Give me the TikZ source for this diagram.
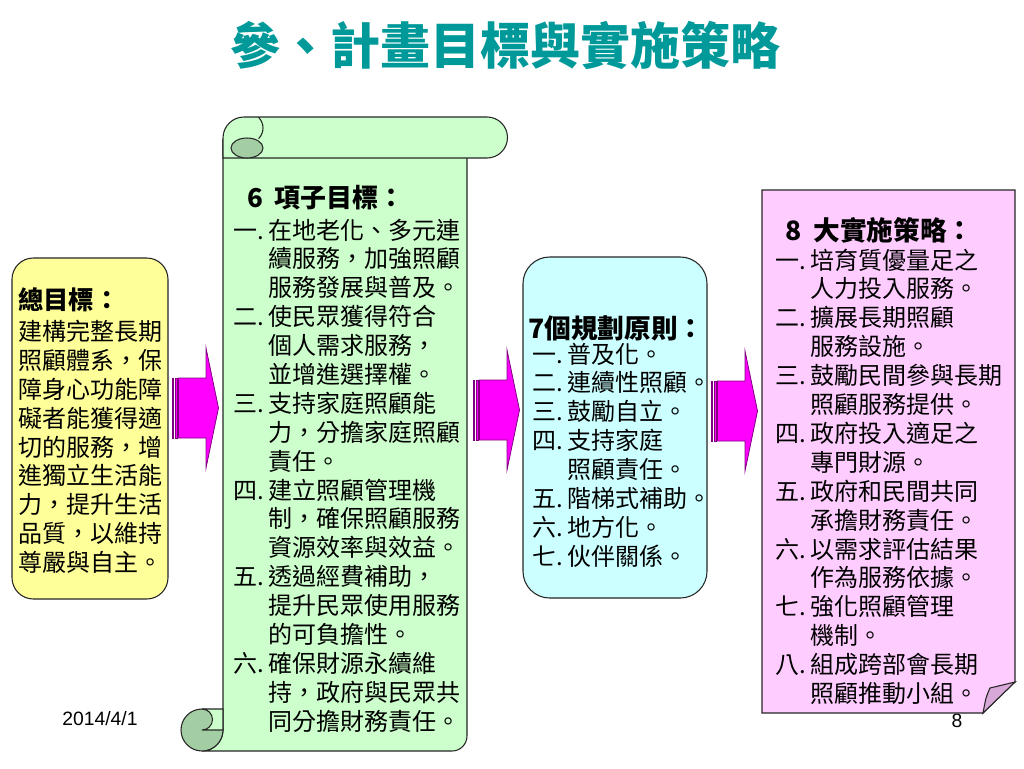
\documentclass[tikz,border=0pt]{standalone}
\usepackage{fontspec}
\setmainfont{Noto Sans CJK TC}
\newfontfamily\arialfont{Liberation Sans}
\usepackage{tikz}

\definecolor{titleteal}{HTML}{009999}
\definecolor{goalyellow}{HTML}{FFFF99}
\definecolor{scrollgreen}{HTML}{CCFFCC}
\definecolor{curlgreen}{HTML}{A3CDA3}
\definecolor{ruleblue}{HTML}{CCFFFF}
\definecolor{planpink}{HTML}{FFCCFF}
\definecolor{flappink}{HTML}{D8A8D8}
\definecolor{arrowmagenta}{HTML}{FF00FF}
\definecolor{arrowedge}{HTML}{800080}

\begin{document}
\begin{tikzpicture}[x=0.75pt, y=-0.75pt,
  outline/.style={draw=black!85, line width=0.8pt},
  arrowline/.style={draw=arrowedge, fill=arrowmagenta, line width=0.6pt},
  headtext/.style={inner sep=0pt, anchor=base west, font=\bfseries\fontsize{19.5}{22}\selectfont},
  listtext/.style={inner sep=0pt, anchor=base west, font=\fontsize{18}{21.6}\selectfont},
  stripearrow/.pic={
    \draw[arrowline] (0,-30) rectangle (1.5,30);
    \draw[arrowline] (3,-30) rectangle (5,30);
    \draw[arrowline] (6.5,-30) -- (34,-30) -- (34,-60) -- (46.5,0) -- (34,60) -- (34,30) -- (6.5,30) -- cycle;
  }]
  \useasboundingbox (0,0) rectangle (1024,768);

  \node (title) [anchor=base, inner sep=0pt, text=titleteal, font=\bfseries\fontsize{37.5}{40}\selectfont] at (505.5,64) {參、計畫目標與實施策略};
  \node (date) [anchor=base west, inner sep=0pt, font=\arialfont\fontsize{14.5}{16}\selectfont] at (62,725) {2014/4/1};
  \node (pagenum) [anchor=base, inner sep=0pt, font=\arialfont\fontsize{14.5}{16}\selectfont] at (957,727) {8};

  % boxes
  \node (goal) [outline, fill=goalyellow, rounded corners=16pt, minimum width=117pt, minimum height=255.75pt, inner sep=0pt] at (90,428.5) {};
  \node (rules) [outline, fill=ruleblue, rounded corners=20pt, minimum width=138pt, minimum height=255.75pt, inner sep=0pt] at (615,427.5) {};

  % scroll
  \draw[outline, fill=scrollgreen] (223,140) -- (223,730) arc[start angle=0, end angle=90, radius=21] -- (452,751) arc[start angle=90, end angle=0, radius=15] -- (467,150) -- cycle;
  \draw[outline, fill=scrollgreen] (223,158) -- (223,138) arc[start angle=180, end angle=270, radius=21] -- (487,117) arc[start angle=-90, end angle=90, radius=20.5] -- cycle;
  \draw[outline] (258.6,117.4) arc[start angle=-45, end angle=45, radius=15];
  \draw[outline, fill=curlgreen] (247,148) ellipse[x radius=16, y radius=10];
  \draw[outline, fill=curlgreen] (202,730) circle[radius=21];
  \draw[outline, fill=scrollgreen] (202,709) -- (223,709) -- (223,730) -- (202,730) arc[start angle=90, end angle=-90, radius=10.5] -- cycle;

  % folded note
  \draw[outline, fill=planpink] (762,190) -- (1015,190) -- (1015,682) -- (983,713) -- (762,713) -- cycle;
  \draw[outline, fill=flappink] (1015,682) -- (990,688) .. controls (986,697) .. (983,713) -- cycle;

  % arrows
  \pic at (172,408) {stripearrow};
  \pic at (473,410) {stripearrow};
  \pic at (711,411) {stripearrow};

  % texts
  \node (goalhead) [headtext, font=\bfseries\fontsize{19}{22}\selectfont] at (18,309.5) {總目標：};
  \node (goallist) [listtext] at (18,340.5) {\begin{tabular}[t]{@{}l@{}}
    建構完整長期\\ 照顧體系，保\\ 障身心功能障\\ 礙者能獲得適\\ 切的服務，增\\
    進獨立生活能\\ 力，提升生活\\ 品質，以維持\\ 尊嚴與自主。
  \end{tabular}};

  \node (aimhead) [headtext] at (247,207.5) {6\hspace{0.45em}項子目標：};
  \node (aimlist) [listtext] at (233,239) {\begin{tabular}[t]{@{}p{26.25pt}@{}l@{}}
    一.&在地老化、多元連\\ &續服務，加強照顧\\ &服務發展與普及。\\
    二.&使民眾獲得符合\\ &個人需求服務，\\ &並增進選擇權。\\
    三.&支持家庭照顧能\\ &力，分擔家庭照顧\\ &責任。\\
    四.&建立照顧管理機\\ &制，確保照顧服務\\ &資源效率與效益。\\
    五.&透過經費補助，\\ &提升民眾使用服務\\ &的可負擔性。\\
    六.&確保財源永續維\\ &持，政府與民眾共\\ &同分擔財務責任。
  \end{tabular}};

  \node (ruleshead) [headtext, font=\bfseries\fontsize{20}{22}\selectfont] at (528,338) {7個規劃原則：};
  \node (ruleslist) [listtext] at (532,363) {\begin{tabular}[t]{@{}p{26.25pt}@{}l@{}}
    一.&普及化。\\ 二.&連續性照顧。\\ 三.&鼓勵自立。\\
    四.&支持家庭\\ &照顧責任。\\ 五.&階梯式補助。\\
    六.&地方化。\\ 七.&伙伴關係。
  \end{tabular}};

  \node (planhead) [headtext, font=\bfseries\fontsize{20}{22}\selectfont] at (785,240) {8\hspace{0.45em}大實施策略：};
  \node (planlist) [listtext] at (775,269) {\begin{tabular}[t]{@{}p{26.25pt}@{}l@{}}
    一.&培育質優量足之\\ &人力投入服務。\\
    二.&擴展長期照顧\\ &服務設施。\\
    三.&鼓勵民間參與長期\\ &照顧服務提供。\\
    四.&政府投入適足之\\ &專門財源。\\
    五.&政府和民間共同\\ &承擔財務責任。\\
    六.&以需求評估結果\\ &作為服務依據。\\
    七.&強化照顧管理\\ &機制。\\
    八.&組成跨部會長期\\ &照顧推動小組。
  \end{tabular}};
\end{tikzpicture}
\end{document}
